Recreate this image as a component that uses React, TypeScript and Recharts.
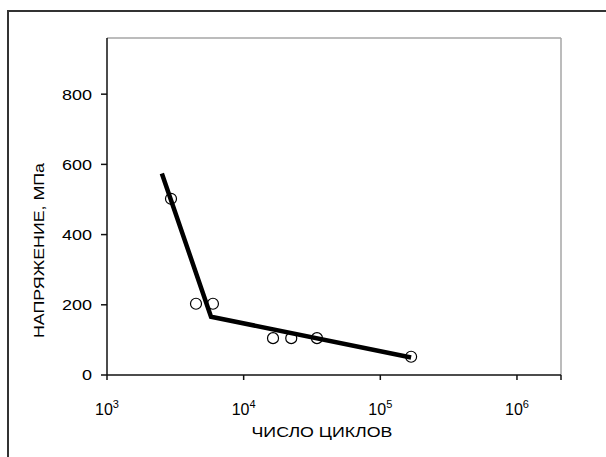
import { ComposedChart, Scatter, XAxis, YAxis, ReferenceLine } from 'recharts'

// measured points (cycles, MPa)
const cycles = [2940, 4480, 5960, 16400, 22300, 34400, 168000]
const stress = [502, 203, 203, 105, 105, 105, 52]

// fitted S-N line
const fitCycles = [2520, 5770, 168000]
const fitStress = [574, 166, 50]

const xTicks = [1e3, 1e4, 1e5, 1e6, 2.1e6]
const yTicks = [0, 200, 400, 600, 800]
const xDomain = [1e3, 2.1e6]
const yDomain = [0, 960]

const font = '"Liberation Sans", Arial, sans-serif'

const points = cycles.map((n, i) => ({ n, s: stress[i] }))
const fit = fitCycles.map((n, i) => ({ n, s: fitStress[i] }))

function XTick({ x, y, payload }: any) {
  const exp = Math.log10(payload.value)
  if (Math.abs(exp - Math.round(exp)) > 1e-6) return <g />
  return (
    <text x={x} y={y + 35} textAnchor="middle" fontSize={16} fontFamily={font} fill="#000">
      <tspan>10</tspan>
      <tspan dy={-7} fontSize={11}>{Math.round(exp)}</tspan>
    </text>
  )
}

function YTick({ x, y, payload }: any) {
  return (
    <g transform={`translate(${x},${y})`}>
      <text x={0} y={0} dy="0.36em" textAnchor="end" fontSize={15} fontFamily={font} fill="#000" transform="scale(1.2,1)">
        {payload.value}
      </text>
    </g>
  )
}

function XTitle({ viewBox }: any) {
  const cx = viewBox.x + viewBox.width / 2 - 12
  const cy = viewBox.y + viewBox.height
  return (
    <text x={cx} y={cy} textAnchor="middle" fontSize={15} fontFamily={font} fill="#000" textLength={141} lengthAdjust="spacingAndGlyphs">
      ЧИСЛО ЦИКЛОВ
    </text>
  )
}

function YTitle({ viewBox }: any) {
  const cx = viewBox.x + 2
  const cy = viewBox.y + viewBox.height / 2 + 44
  return (
    <text
      x={cx}
      y={cy}
      dy="0.36em"
      textAnchor="middle"
      fontSize={15}
      fontFamily={font}
      fill="#000"
      textLength={175}
      lengthAdjust="spacingAndGlyphs"
      transform={`rotate(-90, ${cx}, ${cy})`}
    >
      НАПРЯЖЕНИЕ, МПа
    </text>
  )
}

const Ring = ({ cx, cy }: any) => <circle cx={cx} cy={cy} r={5.5} fill="none" stroke="#000" strokeWidth={1.2} />

export default function App() {
  return (
    <div style={{ position: 'fixed', left: 0, top: 0, width: 606, height: 457, background: '#fff', overflow: 'hidden' }}>
      <div
        style={{
          position: 'absolute',
          left: 7,
          top: 10,
          width: 620,
          height: 470,
          borderLeft: '2px solid #333',
          borderTop: '2px solid #333',
        }}
      />
      <ComposedChart
        width={606}
        height={457}
        margin={{ top: 38, right: 45, left: 37, bottom: 20 }}
        style={{ position: 'absolute', left: 0, top: 0 }}
      >
        <XAxis
          dataKey="n"
          type="number"
          scale="log"
          domain={xDomain}
          ticks={xTicks}
          interval={0}
          allowDataOverflow
          height={62}
          stroke="#111"
          strokeWidth={1.5}
          tickSize={5}
          tickMargin={0}
          tick={<XTick />}
          label={<XTitle />}
        />
        <YAxis
          dataKey="s"
          type="number"
          domain={yDomain}
          ticks={yTicks}
          interval={0}
          allowDataOverflow
          width={70}
          stroke="#111"
          strokeWidth={1.5}
          tickSize={6}
          tickMargin={9}
          tick={<YTick />}
          label={<YTitle />}
        />
        <ReferenceLine y={yDomain[1]} stroke="#a6a6a6" strokeWidth={1.5} />
        <ReferenceLine x={xDomain[1]} stroke="#a6a6a6" strokeWidth={1.5} />
        <Scatter data={points} shape={<Ring />} isAnimationActive={false} />
        <Scatter
          data={fit}
          line={{ stroke: '#000', strokeWidth: 4.5 }}
          shape={() => <g />}
          isAnimationActive={false}
        />
      </ComposedChart>
    </div>
  )
}
